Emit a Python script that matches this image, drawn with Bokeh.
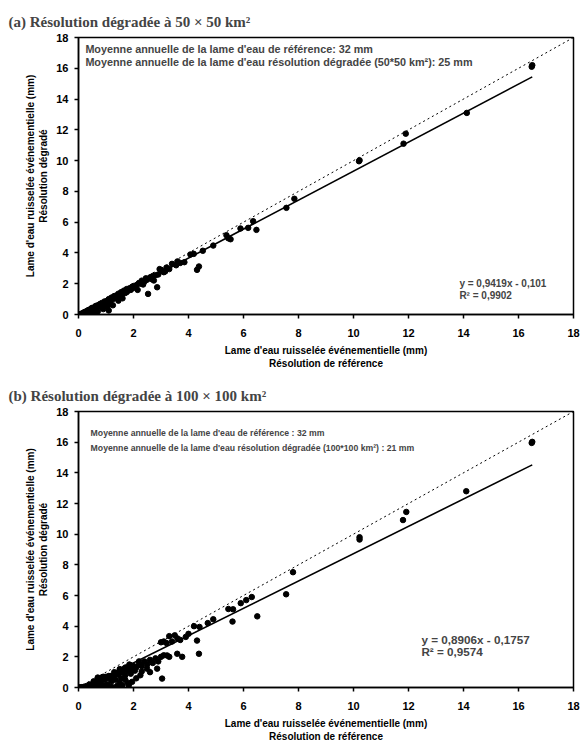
from bokeh.plotting import figure
from bokeh.layouts import column
from bokeh.models import Range1d, FixedTicker, ColumnDataSource, Label
from bokeh.embed import file_html
from bokeh.resources import INLINE

# ---------------- data ----------------
ticks = [0, 2, 4, 6, 8, 10, 12, 14, 16, 18]

ref_a = [16.50, 16.48, 14.12, 11.90, 11.82, 10.22, 10.20, 7.85, 7.56, 6.35,
         6.47, 6.17, 5.89, 5.53, 5.38, 5.45, 4.90, 4.52, 4.19, 4.07,
         4.38, 4.31, 3.40, 3.55, 3.70, 3.85, 3.02, 3.10, 2.95, 3.20,
         2.74, 2.86, 2.53, 2.60, 2.70, 2.45, 2.40, 2.30, 2.20, 2.10,
         2.05, 2.00, 1.95, 1.90, 1.85, 1.80, 1.75, 1.70, 1.65, 1.60,
         1.55, 1.50, 1.45, 1.40, 1.35, 1.30, 1.25, 1.20, 1.15, 1.10,
         1.10, 1.05, 1.00, 0.95, 0.90, 0.85, 0.80, 0.78, 0.75, 0.70,
         0.65, 0.62, 0.60, 0.55, 0.50, 0.48, 0.45, 0.40, 0.38, 0.35,
         0.30, 0.28, 0.25, 0.22, 0.20, 0.18, 0.15, 0.12, 0.10, 0.08,
         0.05, 0.03, 0.60, 0.70, 0.90, 1.25, 1.45, 1.60, 2.15, 2.35,
         1.05, 0.85, 2.65, 2.90, 3.30, 3.60, 1.15, 0.45, 0.35, 0.55,
         2.25, 2.48, 2.80, 3.15, 1.35, 1.75, 1.95, 0.95, 0.40, 0.25]
deg_a = [16.20, 16.10, 13.10, 11.75, 11.10, 10.02, 9.96, 7.52, 6.93, 6.06,
         5.50, 5.63, 5.59, 4.89, 5.15, 4.95, 4.48, 4.14, 3.94, 3.90,
         3.12, 2.90, 3.29, 3.20, 3.35, 3.40, 2.86, 2.75, 2.95, 3.05,
         2.21, 1.77, 1.34, 2.40, 2.50, 2.35, 2.15, 2.20, 2.05, 1.90,
         1.75, 1.85, 1.80, 1.60, 1.70, 1.55, 1.65, 1.40, 1.55, 1.35,
         1.45, 1.20, 1.35, 1.25, 1.10, 1.20, 1.00, 1.10, 0.85, 1.00,
         0.26, 0.90, 0.80, 0.85, 0.70, 0.75, 0.60, 0.68, 0.55, 0.60,
         0.50, 0.55, 0.40, 0.45, 0.35, 0.42, 0.30, 0.32, 0.20, 0.28,
         0.22, 0.12, 0.18, 0.10, 0.14, 0.05, 0.08, 0.03, 0.05, 0.02,
         0.01, 0.00, 0.10, 0.20, 0.35, 0.60, 0.90, 1.05, 1.60, 1.95,
         0.50, 0.45, 2.30, 2.60, 2.95, 3.45, 0.70, 0.10, 0.05, 0.20,
         2.00, 2.25, 2.55, 2.80, 1.15, 1.45, 1.70, 0.75, 0.25, 0.10]

ref_b = [16.50, 16.48, 14.10, 11.92, 11.80, 10.22, 10.22, 7.80, 7.55, 6.50,
         6.30, 6.10, 5.90, 5.62, 5.45, 5.60, 4.90, 4.70, 4.40, 4.20,
         4.31, 4.38, 4.00, 3.90, 3.70, 3.60, 3.50, 3.40, 3.30, 3.20,
         3.10, 3.00, 3.77, 3.59, 3.22, 3.04, 2.86, 2.49, 2.25, 1.95,
         1.83, 3.00, 2.90, 2.80, 2.70, 2.60, 2.50, 2.40, 2.30, 2.20,
         2.10, 2.05, 2.00, 1.95, 1.90, 1.85, 1.80, 1.75, 1.70, 1.65,
         1.60, 1.55, 1.50, 1.45, 1.40, 1.35, 1.30, 1.25, 1.20, 1.15,
         1.10, 1.05, 1.00, 0.95, 0.90, 0.85, 0.80, 0.75, 0.70, 0.65,
         0.60, 0.55, 0.50, 0.45, 0.40, 0.35, 0.30, 0.25, 0.20, 0.15,
         0.10, 0.05, 0.02, 1.40, 1.60, 1.20, 1.00, 0.80, 1.80, 2.10,
         2.60, 2.30, 3.10, 3.30, 1.70, 1.50, 0.70, 0.90, 1.10, 1.30,
         1.50, 1.70, 1.90, 2.20]
deg_b = [16.02, 15.95, 12.80, 11.45, 10.92, 9.80, 9.65, 7.52, 6.08, 4.64,
         5.90, 5.70, 5.50, 5.10, 5.12, 4.30, 4.45, 4.20, 3.95, 4.00,
         3.06, 2.20, 3.50, 3.30, 3.10, 3.20, 3.40, 3.00, 3.35, 2.90,
         3.00, 2.95, 2.00, 2.20, 2.09, 0.58, 1.23, 1.23, 0.80, 0.37,
         0.15, 2.00, 1.70, 1.90, 1.60, 1.80, 1.50, 1.70, 1.40, 1.55,
         1.30, 1.10, 1.40, 1.20, 0.90, 1.50, 1.10, 1.30, 0.80, 1.20,
         1.00, 0.60, 1.10, 0.85, 0.95, 0.50, 0.80, 0.70, 0.40, 0.75,
         0.60, 0.20, 0.70, 0.50, 0.15, 0.65, 0.40, 0.10, 0.60, 0.30,
         0.05, 0.40, 0.15, 0.02, 0.20, 0.05, 0.10, 0.02, 0.05, 0.01,
         0.02, 0.00, 0.00, 0.10, 0.15, 0.05, 0.08, 0.02, 0.30, 0.60,
         1.00, 1.05, 2.10, 2.00, 0.50, 0.30, 0.65, 0.70, 0.75, 1.00,
         1.20, 1.30, 1.45, 1.70]

fit_a = (0.9419, -0.101)
fit_b = (0.8906, -0.1757)
fit_xmax = 16.5

title_a = "(a) Résolution dégradée à 50 × 50 km²"
title_b = "(b) Résolution dégradée à 100 × 100 km²"
notes_a = ["Moyenne annuelle de la lame d'eau de référence: 32 mm",
           "Moyenne annuelle de la lame d'eau résolution dégradée (50*50 km²): 25 mm"]
notes_b = ["Moyenne annuelle de la lame d'eau de référence : 32 mm",
           "Moyenne annuelle de la lame d'eau résolution dégradée (100*100 km²) : 21 mm"]
eq_a = ["y = 0,9419x - 0,101", "R² = 0,9902"]
eq_b = ["y = 0,8906x - 0,1757", "R² = 0,9574"]
xlabel = "Lame d'eau ruisselée événementielle (mm)\nRésolution de référence"
ylabel = "Lame d'eau ruisselée événementielle (mm)\nRésolution dégradé"

SANS = "Liberation Sans"


def panel(title, xs, ys, fit, notes, note_xy, note_dy, note_size, eq, eq_xy, eq_dy, eq_size,
          height, top, bottom):
    p = figure(width=583, height=height, output_backend="svg", toolbar_location=None,
               x_range=Range1d(0, 18), y_range=Range1d(0, 18),
               min_border_left=78, min_border_right=10,
               min_border_top=top, min_border_bottom=bottom)
    p.title.text = title
    p.title.text_font = "Liberation Serif"
    p.title.text_font_size = "15px"
    p.title.text_font_style = "bold"
    p.title.align = "left"
    p.title.offset = -70
    p.title.standoff = 15
    p.grid.visible = False
    p.outline_line_color = "black"
    p.outline_line_width = 1.5
    p.background_fill_color = "white"
    p.border_fill_color = "white"
    for ax in (p.xaxis[0], p.yaxis[0]):
        ax.ticker = FixedTicker(ticks=ticks)
        ax.axis_line_width = 1.5
        ax.axis_line_color = "black"
        ax.major_tick_line_width = 1.5
        ax.major_tick_line_color = "black"
        ax.major_tick_out = 4
        ax.major_tick_in = 0
        ax.minor_tick_line_color = None
        ax.major_label_text_font = SANS
        ax.major_label_text_font_size = "11px"
        ax.major_label_text_font_style = "bold"
        ax.major_label_text_color = "black"
        ax.axis_label_text_font = SANS
        ax.axis_label_text_font_size = "10px"
        ax.axis_label_text_font_style = "bold"
        ax.axis_label_text_color = "black"
    p.xaxis.axis_label = xlabel
    p.yaxis.axis_label = ylabel
    p.xaxis.major_label_standoff = 10
    p.xaxis.axis_label_standoff = 5
    p.yaxis.major_label_standoff = 6
    p.yaxis.axis_label_standoff = 4

    # 1:1 line
    p.line(x=[ticks[0], ticks[-1]], y=[ticks[0], ticks[-1]], line_color="black",
           line_width=1, line_dash="2 3")
    # regression line
    slope, inter = fit
    x0 = -inter / slope
    p.line(x=[x0, fit_xmax], y=[slope * x0 + inter, slope * fit_xmax + inter],
           line_color="black", line_width=1.6)
    src = ColumnDataSource(data=dict(x=xs, y=ys))
    p.scatter("x", "y", source=src, size=5.5, color="black")

    for i, t in enumerate(notes):
        p.add_layout(Label(x=note_xy[0], y=note_xy[1] - i * note_dy, text=t,
                           text_font=SANS, text_font_size=note_size, text_font_style="bold",
                           text_baseline="middle", text_align="left"))
    for i, t in enumerate(eq):
        p.add_layout(Label(x=eq_xy[0], y=eq_xy[1] - i * eq_dy, text=t,
                           text_font=SANS, text_font_size=eq_size, text_font_style="bold",
                           text_baseline="middle", text_align="left"))
    return p


p1 = panel(title_a, ref_a, deg_a, fit_a, notes_a, (0.25, 17.28), 0.84, "10.8px",
           eq_a, (13.85, 2.0), 0.78, "10px", 375, 37, 61)
p2 = panel(title_b, ref_b, deg_b, fit_b, notes_b, (0.44, 16.6), 0.95, "8.7px",
           eq_b, (12.47, 3.1), 0.78, "11.7px", 369, 36, 55)

layout = column(p1, p2, spacing=0)
open("out.html", "w").write(file_html(layout, INLINE))
